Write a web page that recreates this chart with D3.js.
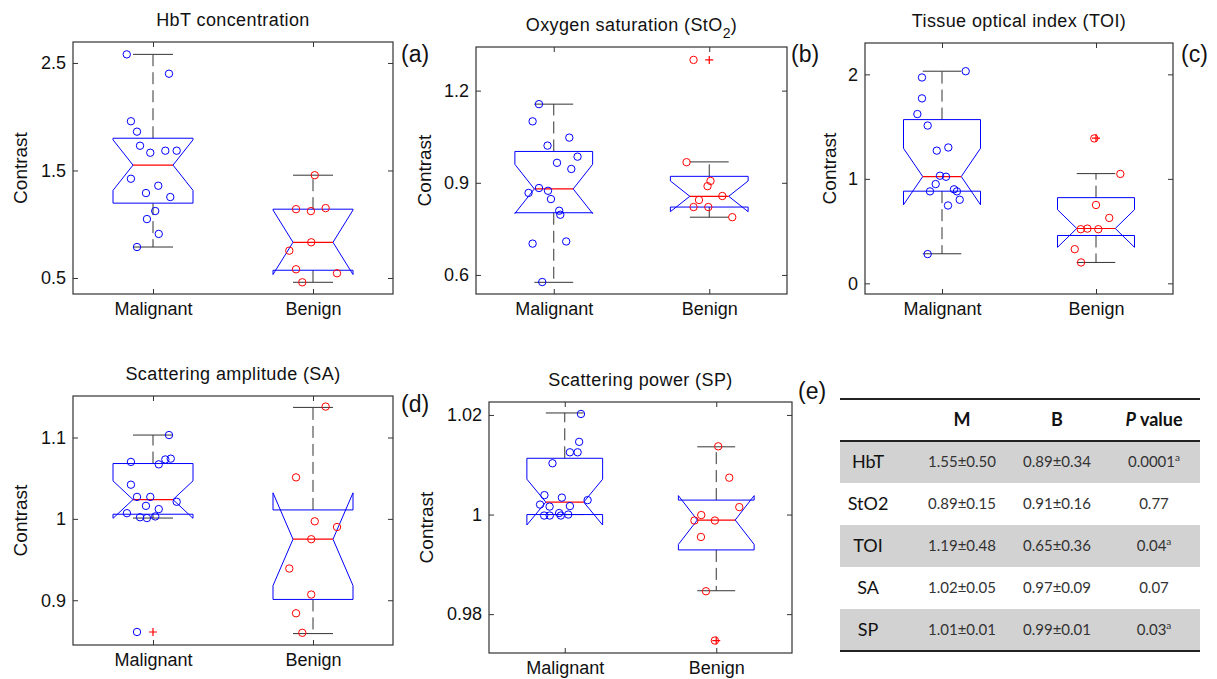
<!DOCTYPE html>
<html>
<head>
<meta charset="utf-8">
<script src="https://cdn.jsdelivr.net/npm/d3@7"></script>
<style>
  body { margin: 0; background: #fff; }
  svg { display: block; }
</style>
</head>
<body>
<div id="chart"></div>
<script>
const groups = ["Malignant", "Benign"];

// box stats per group: [q1, median, q3, notch half-width, lower whisker, upper whisker]

// (a) HbT concentration
const hbtTicks = [0.5, 1.5, 2.5];
const hbtMalignant = [2.58, 2.40, 1.958, 1.861, 1.73, 1.665, 1.684, 1.684, 1.423, 1.358, 1.29, 1.253, 1.123, 1.048, 0.91, 0.788];
const hbtMalignantJitter = [-0.164, 0.10, -0.138, -0.10, -0.081, -0.017, 0.077, 0.148, -0.138, 0.033, -0.044, 0.108, 0.014, -0.038, 0.036, -0.10];
const hbtBenign = [1.456, 1.14, 1.122, 1.15, 0.832, 0.754, 0.581, 0.544, 0.46];
const hbtBenignJitter = [0.011, -0.106, -0.013, 0.079, -0.011, -0.148, -0.106, 0.15, -0.067];
const hbtBoxes = [[1.196, 1.55, 1.80, 0.235, 0.788, 2.58], [0.572, 0.832, 1.14, 0.30, 0.46, 1.456]];
const hbtOutliers = [[], []];

// (b) Oxygen saturation
const sto2Ticks = [0.6, 0.9, 1.2];
const sto2Malignant = [1.156, 1.10, 1.047, 1.021, 0.985, 0.965, 0.945, 0.883, 0.867, 0.874, 0.847, 0.809, 0.796, 0.702, 0.709, 0.577];
const sto2MalignantJitter = [-0.095, -0.136, 0.10, -0.04, 0.153, 0.021, 0.113, -0.095, -0.162, -0.037, -0.018, 0.035, 0.042, -0.136, 0.08, -0.074];
const sto2Benign = [0.967, 1.30, 0.906, 0.889, 0.857, 0.844, 0.821, 0.821, 0.788];
const sto2BenignJitter = [-0.146, -0.101, 0.008, -0.011, 0.084, -0.066, -0.101, -0.006, 0.148];
const sto2Boxes = [[0.8025, 0.88, 1.002, 0.08, 0.576, 1.156], [0.821, 0.856, 0.921, 0.05, 0.788, 0.968]];
const sto2Outliers = [[], [1.30]];

// (c) Tissue optical index
const toiTicks = [0, 1, 2];
const toiMalignant = [2.03, 1.97, 1.77, 1.62, 1.51, 1.30, 1.27, 1.03, 1.02, 0.95, 0.88, 0.90, 0.88, 0.80, 0.745, 0.28];
const toiMalignantJitter = [0.154, -0.13, -0.13, -0.16, -0.093, 0.041, -0.034, -0.013, 0.026, -0.041, -0.078, 0.078, 0.097, 0.115, 0.039, -0.093];
const toiBenign = [1.387, 1.047, 0.75, 0.626, 0.518, 0.524, 0.518, 0.327, 0.20];
const toiBenignJitter = [-0.011, 0.158, 0, 0.086, -0.099, -0.056, 0.015, -0.138, -0.097];
const toiBoxes = [[0.882, 1.022, 1.567, 0.27, 0.283, 2.03], [0.458, 0.525, 0.82, 0.18, 0.20, 1.05]];
const toiOutliers = [[], [1.39]];

// (d) Scattering amplitude
const saTicks = [0.9, 1, 1.1];
const saMalignant = [1.103, 1.070, 1.073, 1.074, 1.067, 1.042, 1.027, 1.027, 1.021, 1.016, 1.012, 1.007, 1.002, 1.001, 1.003, 0.861];
const saMalignantJitter = [0.10, -0.138, 0.077, 0.111, 0.036, -0.138, -0.10, -0.017, 0.148, -0.044, 0.036, -0.163, -0.081, -0.038, 0.014, -0.10];
const saBenign = [1.138, 1.051, 0.997, 0.990, 0.975, 0.939, 0.907, 0.884, 0.860];
const saBenignJitter = [0.079, -0.106, 0.011, 0.15, -0.011, -0.148, -0.011, -0.106, -0.067];
const saBoxes = [[1.0057, 1.0237, 1.068, 0.023, 1.001, 1.103], [0.901, 0.975, 1.011, 0.057, 0.859, 1.137]];
const saOutliers = [[0.861], []];

// (e) Scattering power
const spTicks = [0.98, 1, 1.02];
const spMalignant = [1.0202, 1.0146, 1.0125, 1.0125, 1.0103, 1.0039, 1.0034, 1.0029, 1.0020, 1.0016, 1.0017, 0.9998, 0.9998, 1.0003, 0.9998, 1.0];
const spMalignantJitter = [0.107, 0.095, 0.034, 0.085, -0.081, -0.134, -0.019, 0.151, -0.163, -0.10, 0.034, -0.136, -0.099, -0.037, -0.026, 0.023];
const spBenign = [1.0137, 1.0074, 1.0015, 0.9999, 0.9988, 0.9988, 0.9955, 0.9846, 0.9747];
const spBenignJitter = [0.013, 0.086, 0.152, -0.099, -0.144, -0.009, -0.101, -0.068, -0.009];
const spBoxes = [[1.000, 1.0025, 1.0113, 0.0046, 1.000, 1.0204], [0.9929, 0.9989, 1.0029, 0.0049, 0.9847, 1.0136]];
const spOutliers = [[], [0.9747]];

// (f) summary table
const tableVars = ["HbT", "StO2", "TOI", "SA", "SP"];
const tableM = ["1.55\u00b10.50", "0.89\u00b10.15", "1.19\u00b10.48", "1.02\u00b10.05", "1.01\u00b10.01"];
const tableB = ["0.89\u00b10.34", "0.91\u00b10.16", "0.65\u00b10.36", "0.97\u00b10.09", "0.99\u00b10.01"];
const tableP = ["0.0001", "0.77", "0.04", "0.07", "0.03"];
const tableSig = [true, false, true, false, true];

const panels = [
  { letter: "(a)", lx: 401, ly: 62, title: ["HbT concentration"], ticks: hbtTicks, fmt: d3.format(".1f"),
    domain: [0.351, 2.695], rect: [73, 42, 320, 252], ylab: 46,
    boxes: hbtBoxes, outliers: hbtOutliers,
    points: [[hbtMalignant, hbtMalignantJitter], [hbtBenign, hbtBenignJitter]] },
  { letter: "(b)", lx: 791, ly: 62, title: ["Oxygen saturation (StO", "2", ")"], ticks: sto2Ticks, fmt: d3.format(".1f"),
    domain: [0.538, 1.342], rect: [476, 47, 311, 247], ylab: 45,
    boxes: sto2Boxes, outliers: sto2Outliers,
    points: [[sto2Malignant, sto2MalignantJitter], [sto2Benign, sto2BenignJitter]] },
  { letter: "(c)", lx: 1181, ly: 62, title: ["Tissue optical index (TOI)"], ticks: toiTicks, fmt: d3.format("d"),
    domain: [-0.102, 2.30], rect: [865, 43, 308, 251], ylab: 29,
    boxes: toiBoxes, outliers: toiOutliers,
    points: [[toiMalignant, toiMalignantJitter], [toiBenign, toiBenignJitter]] },
  { letter: "(d)", lx: 401, ly: 412, title: ["Scattering amplitude (SA)"], ticks: saTicks, fmt: d => d === 1 ? "1" : d3.format(".1f")(d),
    domain: [0.845, 1.151], rect: [73, 396, 320, 249], ylab: 46,
    boxes: saBoxes, outliers: saOutliers,
    points: [[saMalignant, saMalignantJitter], [saBenign, saBenignJitter]] },
  { letter: "(e)", lx: 798, ly: 399, title: ["Scattering power (SP)"], ticks: spTicks, fmt: d => d === 1 ? "1" : d3.format(".2f")(d),
    domain: [0.9722, 1.0226], rect: [489, 402, 303, 251], ylab: 56,
    boxes: spBoxes, outliers: spOutliers,
    points: [[spMalignant, spMalignantJitter], [spBenign, spBenignJitter]] }
];

const FONT = "'Liberation Sans', Arial, sans-serif";
const BLUE = "#0000ff";
const RED = "#ff0000";
const INK = "#333";

const svg = d3
  .select("#chart")
  .append("svg")
  .attr("width", 1217)
  .attr("height", 679)
  .style("background", "#fff");

const drawPanel = p => {
  const [rx, ry, rw, rh] = p.rect;
  const g = svg.append("g").attr("font-family", FONT);

  const x = d3.scaleLinear().domain([0.5, 2.5]).range([rx, rx + rw]);
  const y = d3.scaleLinear().domain(p.domain).range([ry + rh, ry]);
  const unit = x(1) - x(0);
  const w = 0.25 * unit;

  // axes with ticks pointing inside
  const styleAxis = sel => {
    sel.select(".domain").remove();
    sel.attr("color", INK).attr("font-family", FONT).attr("font-size", 18);
    sel.selectAll("line").attr("stroke-width", 1);
    sel.selectAll("text").attr("fill", "#111");
  };
  g.append("g")
    .attr("transform", `translate(${rx},0)`)
    .call(d3.axisLeft(y).tickValues(p.ticks).tickFormat(p.fmt).tickSize(-5).tickPadding(7))
    .call(styleAxis);
  g.append("g")
    .attr("transform", `translate(${rx + rw},0)`)
    .call(d3.axisRight(y).tickValues(p.ticks).tickFormat("").tickSize(-5))
    .call(styleAxis);
  g.append("g")
    .attr("transform", `translate(0,${ry + rh})`)
    .call(d3.axisBottom(x).tickValues([1, 2]).tickFormat(d => groups[d - 1]).tickSize(-5).tickPadding(8))
    .call(styleAxis);
  g.append("g")
    .attr("transform", `translate(0,${ry})`)
    .call(d3.axisTop(x).tickValues([1, 2]).tickFormat("").tickSize(-5))
    .call(styleAxis);

  g.append("rect")
    .attr("x", rx)
    .attr("y", ry)
    .attr("width", rw)
    .attr("height", rh)
    .attr("fill", "none")
    .attr("stroke", INK)
    .attr("stroke-width", 1.2);

  // title
  const t = g.append("text")
    .attr("x", rx + rw / 2)
    .attr("y", ry - 16)
    .attr("text-anchor", "middle")
    .attr("font-size", 18)
    .attr("letter-spacing", 0.4)
    .attr("fill", "#111");
  t.append("tspan").text(p.title[0]);
  if (p.title.length > 1) {
    t.append("tspan").attr("dy", 7).attr("font-size", 14).text(p.title[1]);
    t.append("tspan").attr("dy", -7).text(p.title[2]);
  }

  // y label
  g.append("text")
    .attr("transform", `translate(${rx - p.ylab},${ry + rh / 2}) rotate(-90)`)
    .attr("text-anchor", "middle")
    .attr("font-size", 19)
    .attr("fill", "#111")
    .text("Contrast");

  // panel letter
  svg.append("text")
    .attr("x", p.lx)
    .attr("y", p.ly)
    .attr("font-family", FONT)
    .attr("font-size", 23)
    .attr("fill", "#111")
    .text(p.letter);

  const line = d3.line().x(d => x(d[0])).y(d => y(d[1]));

  p.boxes.forEach((b, i) => {
    const c = i + 1;
    const [q1, med, q3, notch, wlo, whi] = b;
    const hw = 0.25, qw = 0.125;

    // whiskers
    [[q3, whi], [q1, wlo]].forEach(([a, e]) => {
      g.append("line")
        .attr("x1", x(c)).attr("x2", x(c))
        .attr("y1", y(a)).attr("y2", y(e))
        .attr("stroke", INK)
        .attr("stroke-width", 1)
        .attr("stroke-dasharray", "12,6");
      g.append("line")
        .attr("x1", x(c - qw)).attr("x2", x(c + qw))
        .attr("y1", y(e)).attr("y2", y(e))
        .attr("stroke", INK)
        .attr("stroke-width", 1);
    });

    // notched box
    const poly = [
      [c - hw, q1], [c - hw, med - notch], [c - qw, med], [c - hw, med + notch], [c - hw, q3],
      [c + hw, q3], [c + hw, med + notch], [c + qw, med], [c + hw, med - notch], [c + hw, q1], [c - hw, q1]
    ];
    g.append("path")
      .attr("d", line(poly))
      .attr("fill", "none")
      .attr("stroke", BLUE)
      .attr("stroke-width", 1);

    g.append("line")
      .attr("x1", x(c - qw)).attr("x2", x(c + qw))
      .attr("y1", y(med)).attr("y2", y(med))
      .attr("stroke", RED)
      .attr("stroke-width", 1.2);

    // outliers
    p.outliers[i].forEach(o => {
      g.append("path")
        .attr("d", `M${x(c) - 4},${y(o)}H${x(c) + 4}M${x(c)},${y(o) - 4}V${y(o) + 4}`)
        .attr("stroke", RED)
        .attr("stroke-width", 1.2);
    });

    // jittered points
    const [vals, jit] = p.points[i];
    g.append("g")
      .selectAll("circle")
      .data(vals)
      .join("circle")
      .attr("cx", (d, k) => x(c + jit[k]))
      .attr("cy", d => y(d))
      .attr("r", 3.7)
      .attr("fill", "none")
      .attr("stroke", i === 0 ? BLUE : RED)
      .attr("stroke-width", 1);
  });
};

panels.forEach(drawPanel);

// summary table
const TFONT = "Lato, 'Open Sans', sans-serif";
const tx0 = 840, tx1 = 1200;
const rowTop = 441, rowH = 42;
const cols = [868, 962, 1057, 1154];
const tg = svg.append("g").attr("font-family", TFONT);

tg.selectAll("rect.row")
  .data(tableVars)
  .join("rect")
  .attr("class", "row")
  .attr("x", tx0)
  .attr("y", (d, i) => rowTop + i * rowH)
  .attr("width", tx1 - tx0)
  .attr("height", rowH)
  .attr("fill", (d, i) => i % 2 === 0 ? "#d2d2d2" : "#fff");

[399, rowTop, rowTop + tableVars.length * rowH].forEach(yy => {
  tg.append("line")
    .attr("x1", tx0).attr("x2", tx1)
    .attr("y1", yy).attr("y2", yy)
    .attr("stroke", "#222")
    .attr("stroke-width", 2);
});

const head = tg.append("g").attr("font-size", 18).attr("font-weight", "bold").attr("fill", "#111");
head.append("text").attr("x", cols[1]).attr("y", 426).attr("text-anchor", "middle").text("M");
head.append("text").attr("x", cols[2]).attr("y", 426).attr("text-anchor", "middle").text("B");
const ph = head.append("text").attr("x", cols[3]).attr("y", 426).attr("text-anchor", "middle");
ph.append("tspan").attr("font-style", "italic").text("P");
ph.append("tspan").text(" value");

tableVars.forEach((v, i) => {
  const cy = rowTop + i * rowH + rowH / 2 + 6;
  tg.append("text").attr("x", cols[0]).attr("y", cy).attr("text-anchor", "middle")
    .attr("font-size", 18).attr("fill", "#111").text(v);
  tg.append("text").attr("x", cols[1]).attr("y", cy - 1).attr("text-anchor", "middle")
    .attr("font-size", 15).attr("fill", "#333").text(tableM[i]);
  tg.append("text").attr("x", cols[2]).attr("y", cy - 1).attr("text-anchor", "middle")
    .attr("font-size", 15).attr("fill", "#333").text(tableB[i]);
  const pt = tg.append("text").attr("x", cols[3]).attr("y", cy - 1).attr("text-anchor", "middle")
    .attr("font-size", 15).attr("fill", "#333");
  pt.append("tspan").text(tableP[i]);
  if (tableSig[i]) {
    pt.append("tspan").attr("dy", -6).attr("font-size", 10).text("a");
  }
});
</script>
</body>
</html>
